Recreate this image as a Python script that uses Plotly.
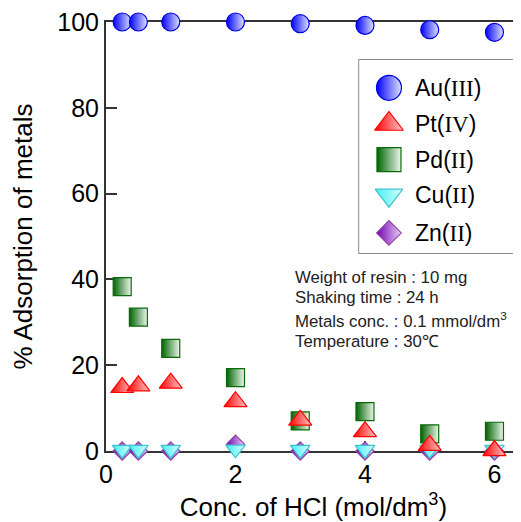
import plotly.graph_objects as go

# ---------------- data ----------------
hcl = [0.25, 0.5, 1, 2, 3, 4, 5, 6]
au = [100, 100, 100, 100, 99.6, 99.2, 98.2, 97.6]
pt = [14.8, 15.2, 15.8, 11.5, 7.2, 4.5, 1.3, 0.1]
pd_ = [38.3, 31.2, 23.9, 17.1, 7.0, 9.2, 4.0, 4.6]
cu = [0.3, 0.3, 0.3, 0.4, 0.3, 0.3, 0.3, 0.3]
zn = [0.0, 0.0, 0.0, 1.6, 0.0, 0.0, 0.0, 0.0]

names = ["Au(III)", "Pt(IV)", "Pd(II)", "Cu(II)", "Zn(II)"]
values = {"Au(III)": au, "Pt(IV)": pt, "Pd(II)": pd_, "Cu(II)": cu, "Zn(II)": zn}
x_ticks = [0, 2, 4, 6]
y_ticks = [0, 20, 40, 60, 80, 100]
conditions = ["Weight of resin : 10 mg",
              "Shaking time : 24 h",
              "Metals conc. : 0.1 mmol/dm<sup>3</sup>",
              "Temperature : 30\u2103"]

# ---------------- styles ----------------
style = {
    "Au(III)": dict(symbol="circle", size=18, color="#0000ff", grad="#dde2ff", line="#0000e0", lsize=25),
    "Pt(IV)": dict(symbol="triangle-up", size=20, color="#ff0000", grad="#ffc8c8", line="#ff0000", lsize=25),
    "Pd(II)": dict(symbol="square", size=18, color="#006400", grad="#eef6ee", line="#0a6a0a", lsize=24),
    "Cu(II)": dict(symbol="triangle-down", size=17, color="#3ff0f0", grad="#d8ffff", line="#40c0d0", lsize=24),
    "Zn(II)": dict(symbol="diamond", size=14, color="#7000b0", grad="#e8d0f4", line="#9040a8", lsize=19),
}

def label_html(n):
    base, num = n.split("(")
    num = num.rstrip(")")
    return f"{base}(<span style='font-family:Liberation Serif'>{num}</span>)"

fig = go.Figure()

draw_order = ["Zn(II)", "Cu(II)", "Pd(II)", "Pt(IV)", "Au(III)"]
for n in draw_order:
    s = style[n]
    fig.add_trace(go.Scatter(
        x=hcl, y=values[n], mode="markers", name=n, showlegend=False,
        cliponaxis=False,
        marker=dict(symbol=s["symbol"], size=s["size"], color=s["color"],
                    gradient=dict(type="horizontal", color=s["grad"]),
                    line=dict(color=s["line"], width=1.2)),
        xaxis="x", yaxis="y"))

# manual legend on an auxiliary axis pair
leg_y = [0.855, 0.668, 0.484, 0.300, 0.105]
for n, yy in zip(names, leg_y):
    s = style[n]
    fig.add_trace(go.Scatter(
        x=[0.19], y=[yy], mode="markers", showlegend=False, cliponaxis=False,
        marker=dict(symbol=s["symbol"], size=s["lsize"], color=s["color"],
                    gradient=dict(type="horizontal", color=s["grad"]),
                    line=dict(color=s["line"], width=1.2)),
        xaxis="x2", yaxis="y2", hoverinfo="skip"))
    fig.add_annotation(x=0.345, y=yy, xref="x2", yref="y2", text=label_html(n),
                       showarrow=False, xanchor="left", yanchor="middle",
                       font=dict(family="Liberation Sans", size=23, color="black"))

fig.add_shape(type="rect", xref="paper", yref="paper",
              x0=0.610, x1=0.988, y0=0.461, y1=0.912,
              line=dict(color="#333333", width=1.2), fillcolor="white", layer="below")

cond_y = [0.404, 0.357, 0.306, 0.256]
for t, yy in zip(conditions, cond_y):
    fig.add_annotation(x=0.4506, y=yy, xref="paper", yref="paper", text=t,
                       showarrow=False, xanchor="left", yanchor="middle",
                       font=dict(family="Liberation Sans", size=16.8, color="#222222"))

axis_font = dict(family="Liberation Sans", size=25, color="black")
# the page body adds an 8px offset, so the figure is 8px smaller and margins shifted
fig.update_layout(
    width=513, height=514,
    margin=dict(l=98, r=0, t=14, b=71),
    paper_bgcolor="white", plot_bgcolor="white",
    showlegend=False,
    xaxis=dict(range=[0, 6.41], tickvals=x_ticks, ticks="inside", ticklen=10, tickwidth=1.5,
               tickcolor="#333333", showline=True, linecolor="#333333", linewidth=2,
               mirror=True, showgrid=False, zeroline=False, tickfont=axis_font,
               layer="below traces", automargin=False, ticklabeloverflow="allow",
               title=dict(text="Conc. of HCl (mol/dm<sup>3</sup>)",
                          font=dict(family="Liberation Sans", size=26, color="black"),
                          standoff=18)),
    yaxis=dict(range=[0, 100], tickvals=y_ticks, ticks="inside", ticklen=11, tickwidth=1.5,
               tickcolor="#333333", showline=True, linecolor="#333333", linewidth=2,
               showgrid=False, zeroline=False, tickfont=axis_font, layer="below traces",
               automargin=False, ticklabeloverflow="allow",
               title=dict(text="% Adsorption of metals",
                          font=dict(family="Liberation Sans", size=26, color="black"),
                          standoff=28)),
    xaxis2=dict(domain=[0.610, 0.988], range=[0, 1], visible=False, anchor="y2"),
    yaxis2=dict(domain=[0.461, 0.912], range=[0, 1], visible=False, anchor="x2"),
)

fig.write_html("out.html")
